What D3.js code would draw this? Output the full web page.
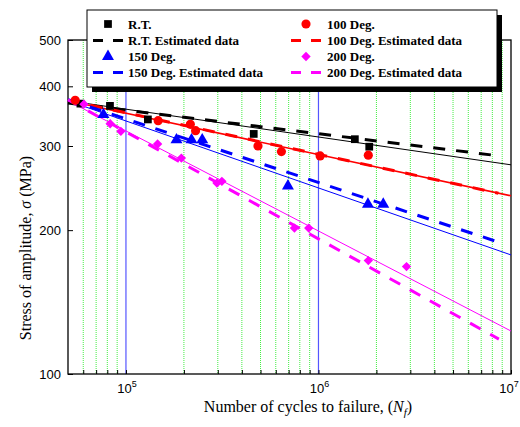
<!DOCTYPE html>
<html>
<head>
<meta charset="utf-8">
<script src="https://cdn.jsdelivr.net/npm/d3@7"></script>
<style>
  body { margin: 0; background: #fff; }
  svg text { fill: #000; }
</style>
</head>
<body>
<div id="chart"></div>
<script>
// measured points (cycles, MPa)
const rtN = [58000, 82600, 130000, 461000, 1545000, 1835000];
const rtS = [368, 364, 341, 318, 310, 299];
const d100N = [54500, 147000, 216000, 230000, 485000, 642000, 1020000, 1815000];
const d100S = [374, 339, 333, 323, 300, 292, 286, 287];
const d150N = [76400, 183000, 219000, 249000, 694000, 1807000, 2170000];
const d150S = [349, 309, 309, 309, 247.5, 226.6, 226.6];
const d200N = [60500, 82800, 94100, 146000, 194000, 297000, 315000, 750000, 890000, 1815000, 2866000];
const d200S = [367, 334, 322, 303, 283, 251, 253, 202, 202, 172.7, 167.8];

// fit lines (solid) and estimated lines (dashed), end points
const rtFit = [[5e4, 373], [1e7, 274]];
const rtEst = [[5e4, 369], [8.7e6, 286]];
const d100Fit = [[5e4, 373], [1e7, 236]];
const d100Est = [[5e4, 374], [8.6e6, 239]];
const d150Fit = [[5e4, 373], [1e7, 177.5]];
const d150Est = [[5e4, 375], [8.65e6, 188.7]];
const d200Fit = [[5e4, 373], [1e7, 123]];
const d200Est = [[5e4, 375], [8.65e6, 118.3]];

const greenGrid = [6e4, 7e4, 8e4, 9e4, 2e5, 3e5, 4e5, 5e5, 6e5, 7e5, 8e5, 9e5,
  2e6, 3e6, 4e6, 5e6, 6e6, 7e6, 8e6, 9e6];
const blueGrid = [1e5, 1e6];
const yTicks = [100, 200, 300, 400, 500];
const xMajor = [1e5, 1e6, 1e7];

const width = 520;
const height = 427;
const pLeft = 68, pRight = 511, pTop = 40, pBottom = 374;

const x = d3.scaleLog().domain([5e4, 1e7]).range([pLeft, pRight]);
const y = d3.scaleLog().domain([100, 500]).range([pBottom, pTop]);

const svg = d3.select("#chart").append("svg")
  .attr("width", width)
  .attr("height", height);

//grid
svg.append("g").selectAll("line").data(greenGrid).enter().append("line")
  .attr("x1", d => x(d)).attr("x2", d => x(d))
  .attr("y1", pTop).attr("y2", pBottom)
  .attr("stroke", "#44ee44").attr("stroke-width", 1)
  .attr("stroke-dasharray", "1,1");
svg.append("g").selectAll("line").data(blueGrid).enter().append("line")
  .attr("x1", d => x(d)).attr("x2", d => x(d))
  .attr("y1", pTop).attr("y2", pBottom)
  .attr("stroke", "#5555ff").attr("stroke-width", 1.2);

//axes
const yAxis = d3.axisLeft(y).tickValues(yTicks).tickSize(-5).tickPadding(7)
  .tickFormat(d3.format("d"));
const gy = svg.append("g").attr("transform", "translate(" + pLeft + ",0)").call(yAxis);
gy.select(".domain").remove();
gy.selectAll("text").style("font-family", "'Liberation Sans', Arial, sans-serif")
  .style("font-size", "13px");

const xAxis = d3.axisBottom(x).tickValues(greenGrid.concat(xMajor)).tickSize(-4)
  .tickFormat("");
const gx = svg.append("g").attr("transform", "translate(0," + pBottom + ")").call(xAxis);
gx.select(".domain").remove();

svg.append("rect")
  .attr("x", pLeft).attr("y", pTop)
  .attr("width", pRight - pLeft).attr("height", pBottom - pTop)
  .attr("fill", "none").attr("stroke", "#000").attr("stroke-width", 1.3);

// x tick labels 10^n (last one kept inside the page)
const xl = svg.append("g").selectAll("text").data(xMajor).enter().append("text")
  .attr("x", d => Math.min(x(d) + 1, 509))
  .attr("y", 393)
  .attr("text-anchor", "middle")
  .style("font-family", "'Liberation Sans', Arial, sans-serif")
  .style("font-size", "13px");
xl.append("tspan").text("10");
xl.append("tspan").attr("dy", -6).style("font-size", "9px")
  .text(d => Math.round(Math.log10(d)));

//lines
const lineGen = d3.line().x(d => x(d[0])).y(d => y(d[1]));
const series = [
  { name: "R.T.", color: "#000000", fit: rtFit, est: rtEst, N: rtN, S: rtS, sym: d3.symbolSquare, size: 60 },
  { name: "100 Deg.", color: "#ff0000", fit: d100Fit, est: d100Est, N: d100N, S: d100S, sym: d3.symbolCircle, size: 66 },
  { name: "150 Deg.", color: "#0000ff", fit: d150Fit, est: d150Est, N: d150N, S: d150S, sym: d3.symbolTriangle, size: 62 },
  { name: "200 Deg.", color: "#ff00ff", fit: d200Fit, est: d200Est, N: d200N, S: d200S, sym: d3.symbolDiamond2, size: 56 }
];

series.forEach(s => {
  svg.append("path").attr("d", lineGen(s.fit))
    .attr("fill", "none").attr("stroke", s.color)
    .attr("stroke-width", s.color === "#ff0000" ? 1.6 : 1);
});
series.forEach(s => {
  svg.append("path").attr("d", lineGen(s.est))
    .attr("fill", "none").attr("stroke", s.color)
    .attr("stroke-width", 3).attr("stroke-dasharray", "12,11");
});

//points
series.forEach(s => {
  svg.append("g").selectAll("path").data(s.N).enter().append("path")
    .attr("d", d3.symbol().type(s.sym).size(s.size))
    .attr("transform", (d, i) => "translate(" + x(d) + "," + y(s.S[i]) + ")")
    .attr("fill", s.color);
});

//legend
const lg = svg.append("g");
lg.append("rect").attr("x", 92).attr("y", 15).attr("width", 410).attr("height", 77)
  .attr("fill", "#000");
lg.append("rect").attr("x", 87).attr("y", 10).attr("width", 410).attr("height", 77)
  .attr("fill", "#fff").attr("stroke", "#000").attr("stroke-width", 1);

const legendRows = [];
series.forEach((s, i) => {
  const col = i % 2;
  const row = Math.floor(i / 2) * 2;
  legendRows.push({ s: s, col: col, row: row, type: "pt", label: s.name });
  legendRows.push({ s: s, col: col, row: row + 1, type: "ln", label: s.name + " Estimated data" });
});
const colX = [108, 306];
const textX = [128, 327];
const rowY = [24, 40.5, 56.5, 72.5];

legendRows.forEach(r => {
  const cx = colX[r.col], cy = rowY[r.row];
  if (r.type === "pt") {
    lg.append("path").attr("d", d3.symbol().type(r.s.sym).size(r.s.size))
      .attr("transform", "translate(" + cx + "," + cy + ")")
      .attr("fill", r.s.color);
  } else {
    lg.append("line").attr("x1", cx - 15).attr("x2", cx + 15)
      .attr("y1", cy).attr("y2", cy)
      .attr("stroke", r.s.color).attr("stroke-width", 3)
      .attr("stroke-dasharray", "10,10");
  }
  lg.append("text").attr("x", textX[r.col]).attr("y", cy + 4.5)
    .style("font-family", "'Liberation Serif', 'Times New Roman', serif")
    .style("font-weight", "bold").style("font-size", "13px")
    .text(r.label);
});

// axis titles
const yt = svg.append("text")
  .attr("transform", "translate(31,248) rotate(-90)")
  .attr("text-anchor", "middle")
  .style("font-family", "'Liberation Serif', 'Times New Roman', serif")
  .style("font-size", "16px");
yt.append("tspan").text("Stress of amplitude, ");
yt.append("tspan").style("font-style", "italic").text("σ");
yt.append("tspan").text(" (MPa)");

const xt = svg.append("text")
  .attr("x", 308).attr("y", 412)
  .attr("text-anchor", "middle")
  .style("font-family", "'Liberation Serif', 'Times New Roman', serif")
  .style("font-size", "16px");
xt.append("tspan").text("Number of cycles to failure, (");
xt.append("tspan").style("font-style", "italic").text("N");
xt.append("tspan").attr("dy", 4).style("font-size", "11px").style("font-style", "italic").text("f");
xt.append("tspan").attr("dy", -4).text(")");
</script>
</body>
</html>
